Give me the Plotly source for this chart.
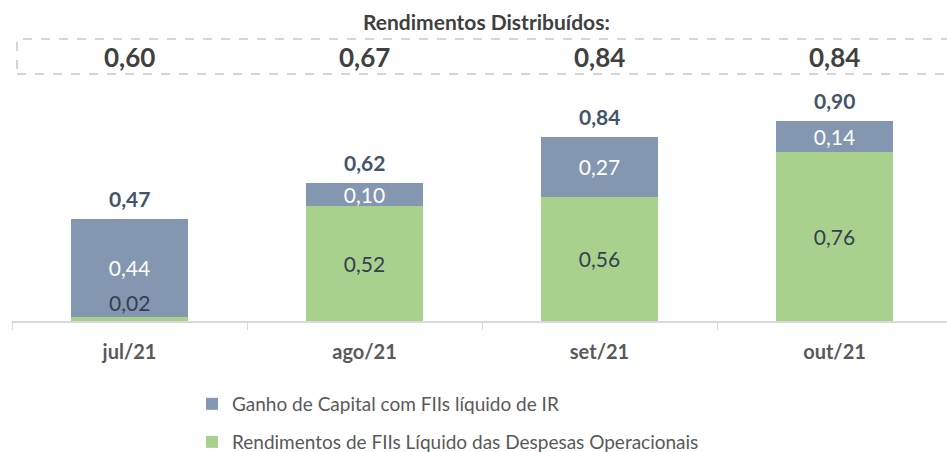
import plotly.graph_objects as go

categories = ["jul/21", "ago/21", "set/21", "out/21"]
rendimentos = [0.02, 0.52, 0.56, 0.76]   # Rendimentos de FIIs Líquido das Despesas Operacionais
ganho = [0.44, 0.10, 0.27, 0.14]         # Ganho de Capital com FIIs líquido de IR
totais = [0.47, 0.62, 0.84, 0.90]
distribuidos = [0.60, 0.67, 0.84, 0.84]

FONT = "Lato"
BLUE = "#8497B0"
GREEN = "#A9D18E"
DARK = "#44546A"
LABEL = "#333F50"

def br(v):
    return f"{v:.2f}".replace(".", ",")

W, H = 947, 452
ML, MR, MT, MB = 12, 0, 90, 131

def px_x(p):
    return (p - ML) / (W - ML - MR)

def px_y(p):
    return (H - MB - p) / (H - MT - MB)

fig = go.Figure()

green_text = [br(v) if v >= 0.05 else "" for v in rendimentos]
fig.add_trace(go.Bar(
    x=categories, y=rendimentos, name="Rendimentos de FIIs Líquido das Despesas Operacionais",
    marker=dict(color=GREEN, line=dict(width=0)), width=0.5,
    text=green_text, textposition="inside", insidetextanchor="middle",
    textfont=dict(family=FONT, size=21, color=LABEL),
    legend="legend2", showlegend=True, hoverinfo="skip",
))
fig.add_trace(go.Bar(
    x=categories, y=ganho, name="Ganho de Capital com FIIs líquido de IR",
    marker=dict(color=BLUE, line=dict(width=0)), width=0.5,
    text=[br(v) for v in ganho], textposition="inside", insidetextanchor="middle",
    textfont=dict(family=FONT, size=21, color="white"),
    legend="legend", showlegend=True, hoverinfo="skip",
))

annotations = []
for c, v in zip(categories, rendimentos):
    if v < 0.05:
        annotations.append(dict(x=c, y=v, xref="x", yref="y", text=br(v), showarrow=False,
                                yanchor="bottom", yshift=0,
                                font=dict(family=FONT, size=21, color=LABEL)))
for c, g, b, t in zip(categories, rendimentos, ganho, totais):
    annotations.append(dict(x=c, y=g + b, xref="x", yref="y", text=f"<b>{br(t)}</b>",
                            showarrow=False, yanchor="bottom", yshift=6,
                            font=dict(family=FONT, size=21, color=DARK)))
annotations.append(dict(x=px_x(486), y=px_y(21), xref="paper", yref="paper",
                        xanchor="center", yanchor="middle",
                        text="<b>Rendimentos Distribuídos:</b>",
                        showarrow=False, font=dict(family=FONT, size=21, color="#404040")))
for c, d in zip(categories, distribuidos):
    annotations.append(dict(x=c, y=px_y(57), xref="x", yref="paper",
                            xanchor="center", yanchor="middle",
                            text=f"<b>{br(d)}</b>", showarrow=False,
                            font=dict(family=FONT, size=26, color="#404040")))

shapes = [dict(type="rect", xref="paper", yref="paper",
               x0=px_x(17), x1=px_x(952), y0=px_y(74), y1=px_y(39),
               line=dict(color="#C8C8C8", width=1.5, dash="dash"), fillcolor="rgba(0,0,0,0)")]

fig.update_layout(
    width=W, height=H, margin=dict(l=ML, r=MR, t=MT, b=MB, autoexpand=False),
    barmode="stack", bargap=0.5, showlegend=True,
    paper_bgcolor="white", plot_bgcolor="white",
    font=dict(family=FONT, color="#595959"),
    xaxis=dict(range=[-0.5, -0.5 + (W - ML - MR) / 235.0], showline=True, linecolor="#D9D9D9", linewidth=1.5,
               ticks="outside", tickson="boundaries", ticklen=7, tickcolor="#D9D9D9",
               tickfont=dict(family=FONT, size=20, color="#595959"),
               tickvals=categories, ticktext=[f"<b>{c}</b>" for c in categories],
               ticklabelstandoff=12,
               showgrid=False, fixedrange=True),
    yaxis=dict(range=[0, (H - MT - MB) / 222.0], visible=False, showgrid=False, fixedrange=True),
    legend=dict(xref="container", yref="container", x=192 / W, y=1 - 404 / H,
                xanchor="left", yanchor="middle", orientation="v",
                font=dict(family=FONT, size=19, color="#595959"), bgcolor="rgba(0,0,0,0)"),
    legend2=dict(xref="container", yref="container", x=192 / W, y=1 - 442 / H,
                 xanchor="left", yanchor="middle", orientation="v",
                 font=dict(family=FONT, size=19, color="#595959"), bgcolor="rgba(0,0,0,0)"),
    annotations=annotations, shapes=shapes,
    uniformtext=dict(minsize=21, mode="show"),
)

fig.write_html("out.html", config={"displayModeBar": False, "staticPlot": True},
               post_script="document.body.style.margin='0px';document.body.style.padding='0px';")
